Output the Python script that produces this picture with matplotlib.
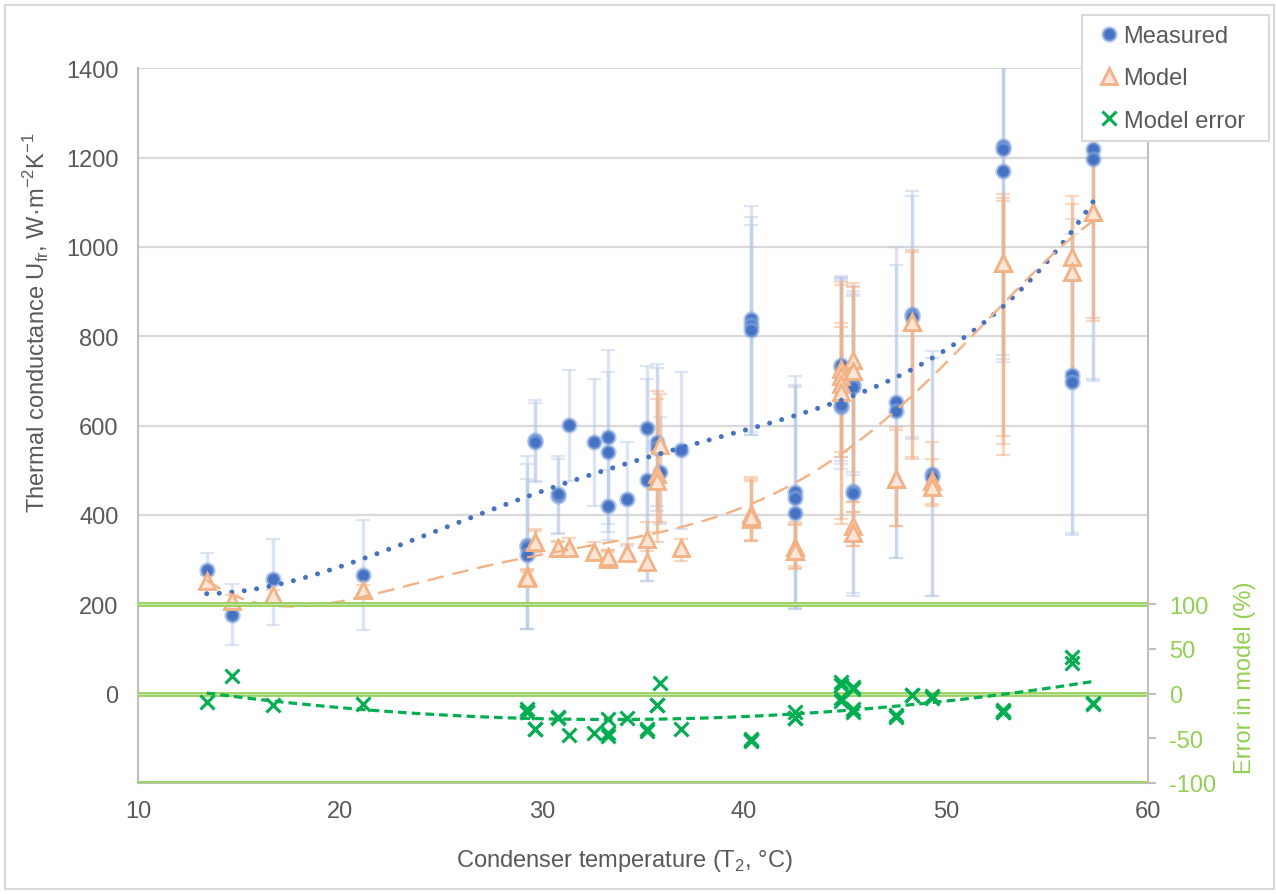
import numpy as np
import matplotlib
matplotlib.use("Agg")
import matplotlib.pyplot as plt
from matplotlib.lines import Line2D
from matplotlib.patches import Rectangle

plt.rcParams['font.family'] = ['Liberation Sans', 'DejaVu Sans']
plt.rcParams['axes.unicode_minus'] = False

# Condenser temperature (°C) for each run
temp = [13.4, 14.65, 16.7, 21.15, 29.25, 29.25, 29.25, 29.65, 29.65, 30.8,
        30.8, 31.35, 32.55, 33.25, 33.25, 33.25, 34.2, 35.2, 35.2, 35.7,
        35.7, 35.85, 36.9, 40.35, 40.35, 40.35, 42.5, 42.5, 42.5, 44.8,
        44.8, 44.8, 44.8, 45.4, 45.4, 45.4, 45.4, 47.5, 47.5, 48.3,
        48.3, 49.3, 49.3, 52.8, 52.8, 52.8, 56.25, 56.25, 57.3, 57.3]

# Measured thermal conductance and its uncertainty band
measured = [276, 176, 257, 266, 333, 328, 310, 568, 563, 442,
            446, 601, 563, 574, 540, 421, 435, 594, 478, 563,
            550, 497, 546, 839, 826, 814, 451, 437, 404, 641,
            646, 731, 735, 693, 686, 454, 450, 654, 632, 850,
            844, 492, 486, 1225, 1220, 1171, 713, 697, 1219, 1197]
measured_low = [240, 109, 153, 142, 145, 145, 145, 473, 476, 357,
                360, 477, 421, 380, 361, 345, 330, 253, 253, 420,
                410, 380, 369, 585, 578, 578, 190, 190, 195, 514,
                503, 520, 530, 496, 490, 219, 225, 304, 304, 570,
                575, 219, 219, 758, 742, 750, 356, 360, 701, 705]
measured_high = [316, 245, 346, 388, 533, 514, 481, 658, 650, 533,
                 525, 725, 705, 770, 721, 500, 563, 734, 705, 738,
                 730, 620, 721, 1091, 1067, 1050, 712, 686, 690, 936,
                 930, 925, 930, 913, 902, 891, 895, 1000, 960, 1126,
                 1115, 767, 752, 1480, 1480, 1480, 1063, 1030, 1500, 1500]

# Model prediction and its uncertainty band
model = [252, 207, 220, 232, 264, 262, 258, 339, 339, 325,
         327, 326, 318, 305, 301, 305, 316, 346, 294, 492,
         477, 557, 325, 402, 391, 395, 328, 320, 320, 727,
         712, 693, 675, 746, 723, 376, 360, 481, 481, 832,
         832, 477, 462, 964, 964, 964, 977, 944, 1079, 1079]
model_low = [238, 196, 210, 222, 250, 248, 246, 318, 318, 310,
             312, 310, 303, 290, 288, 290, 300, 320, 280, 339,
             361, 385, 298, 342, 342, 345, 286, 279, 282, 380,
             390, 530, 540, 429, 406, 331, 331, 376, 376, 525,
             530, 421, 425, 577, 534, 560, 700, 720, 835, 840]
model_high = [266, 220, 232, 244, 280, 276, 272, 369, 365, 340,
              342, 348, 339, 322, 318, 322, 335, 384, 335, 678,
              660, 670, 346, 486, 475, 480, 384, 380, 378, 921,
              915, 821, 830, 920, 910, 429, 406, 597, 590, 993,
              988, 563, 525, 1118, 1104, 1110, 1114, 1096, 1320, 1280]

# Relative model error (%)
model_error = [-9, 20, -13, -12, -21, -20, -17, -40, -40, -26,
               -27, -46, -44, -47, -44, -28, -27, -42, -39, -13,
               -13, 12, -40, -52, -53, -51, -27, -27, -21, 13,
               10, -5, -8, 8, 5, -17, -20, -26, -24, -2,
               -1, -3, -5, -21, -21, -18, 41, 34, -12, -10]

x_ticks = [10, 20, 30, 40, 50, 60]
left_ticks = [0, 200, 400, 600, 800, 1000, 1200, 1400]
right_ticks = [-100, -50, 0, 50, 100]

GREY_TXT = '#595959'
GRID = '#D9D9D9'
BLUE = '#4472C4'
HALO = (0.55, 0.67, 0.88, 0.55)
ORANGE = '#F4B183'
PEACH = '#FBE5D6'
GREEN = '#00B050'
LIME = '#92D050'
FS = 17

t = np.array(temp)
m = np.array(measured)
p = np.array(model)
e = np.array(model_error)

W, H = 1276, 895
fig = plt.figure(figsize=(W / 100, H / 100), dpi=100)
ax = fig.add_axes([138 / W, 1 - 784 / H, 1010 / W, 714.7 / H])
ax.set_xlim(10, 60)
ax.set_ylim(-200, 1400)

for yv in left_ticks[1:]:
    ax.axhline(yv, color=GRID, lw=1.6, zorder=0)

# uncertainty bars
ax.errorbar(t, m, yerr=[m - np.array(measured_low), np.array(measured_high) - m],
            fmt='none', ecolor=(0.71, 0.78, 0.91, 0.45), elinewidth=2.4,
            capsize=5, capthick=1.6, zorder=2)
ax.errorbar(t, p, yerr=[p - np.array(model_low), np.array(model_high) - p],
            fmt='none', ecolor=(0.96, 0.69, 0.51, 0.5), elinewidth=2.4,
            capsize=5, capthick=1.6, zorder=2)

ax.plot(t, m, 'o', ms=9.5, mfc=BLUE, mec=HALO, mew=2.4, ls='none', zorder=4)
ax.plot(t, p, '^', ms=11, mfc=PEACH, mec=ORANGE, mew=2.0, ls='none', zorder=5)

# polynomial trend lines
tt = np.linspace(t.min(), t.max(), 300)
cm = np.polyfit(t, m, 4)
ax.plot(tt, np.polyval(cm, tt), color=BLUE, lw=3.6,
        ls=(0, (0.01, 2.5)), dash_capstyle='round', zorder=6)
cp = np.polyfit(t, p, 5)
ax.plot(tt, np.polyval(cp, tt), color=ORANGE, lw=1.7,
        ls=(0, (7, 3.8)), zorder=6)

ax.set_xticks(x_ticks)
ax.set_yticks(left_ticks)
ax.tick_params(axis='both', length=0, labelsize=FS, labelcolor=GREY_TXT)
ax.tick_params(axis='y', pad=14)
ax.tick_params(axis='x', pad=12)
for s in ('top', 'right'):
    ax.spines[s].set_visible(False)
for s in ('left', 'bottom'):
    ax.spines[s].set_color('#BFBFBF')
    ax.spines[s].set_linewidth(1.5)

ax.set_xlabel('Condenser temperature (T$_\\mathregular{2}$, °C)', fontsize=FS,
              color=GREY_TXT)
ax.xaxis.set_label_coords(0.482, -0.09)
ax.set_ylabel('Thermal conductance U$_\\mathregular{fr}$, W·m$^\\mathregular{-2}$K$^\\mathregular{-1}$',
              fontsize=FS, color=GREY_TXT)
ax.yaxis.set_label_coords(-0.085, 0.646)

# secondary axis: model error
ax2 = ax.twinx()
ax2.set_ylim(-100, 700)
for yv in (-100, 0, 100):
    ax2.axhline(yv, color=LIME, lw=3.4, zorder=1)
    ax2.axhline(yv, color='#C9E3B3', lw=1.0, zorder=1)
ax2.plot(t, e, 'x', ms=10, mec=GREEN, mew=2.2, ls='none', zorder=4)
ce = np.polyfit(t, e, 2)
ax2.plot(tt, np.polyval(ce, tt), color=GREEN, lw=2.3,
         ls=(0, (2.7, 1.6)), zorder=5)
ax2.set_yticks(right_ticks)
ax2.tick_params(axis='y', length=6, width=1.5, color='#BFBFBF',
                labelsize=FS, labelcolor=LIME, pad=9)
for s in ('top', 'left', 'bottom'):
    ax2.spines[s].set_visible(False)
ax2.spines['right'].set_color('#BFBFBF')
ax2.spines['right'].set_linewidth(1.5)
ax2.set_ylabel('Error in model (%)', fontsize=FS, color=LIME)
ax2.yaxis.set_label_coords(1.085, 0.148)

# legend, with its own frame box
fig.patches.append(Rectangle((1082 / W, 1 - 142 / H), 187 / W, 126 / H,
                             transform=fig.transFigure, facecolor='white',
                             edgecolor=GRID, lw=1.5, zorder=10))
handles = [
    Line2D([], [], marker='o', ls='none', ms=9.5, mfc=BLUE, mec=HALO, mew=2.4),
    Line2D([], [], marker='^', ls='none', ms=11, mfc=PEACH, mec=ORANGE, mew=2.0),
    Line2D([], [], marker='x', ls='none', ms=10, mec=GREEN, mew=2.2),
]
leg = fig.legend(handles, ['Measured', 'Model', 'Model error'],
                 loc='upper left', bbox_to_anchor=(1100 / W, 1 - 26 / H),
                 frameon=False, fontsize=FS,
                 handlelength=0.8, handletextpad=0.2, labelspacing=0.86,
                 borderpad=0, borderaxespad=0)
leg.set_zorder(11)
for txt in leg.get_texts():
    txt.set_color(GREY_TXT)

fig.patches.append(Rectangle((5 / W, 1 - 890 / H), 1269 / W, 884 / H,
                             transform=fig.transFigure, fill=False,
                             edgecolor=GRID, lw=1.5))

fig.savefig('out.png', dpi=100)
